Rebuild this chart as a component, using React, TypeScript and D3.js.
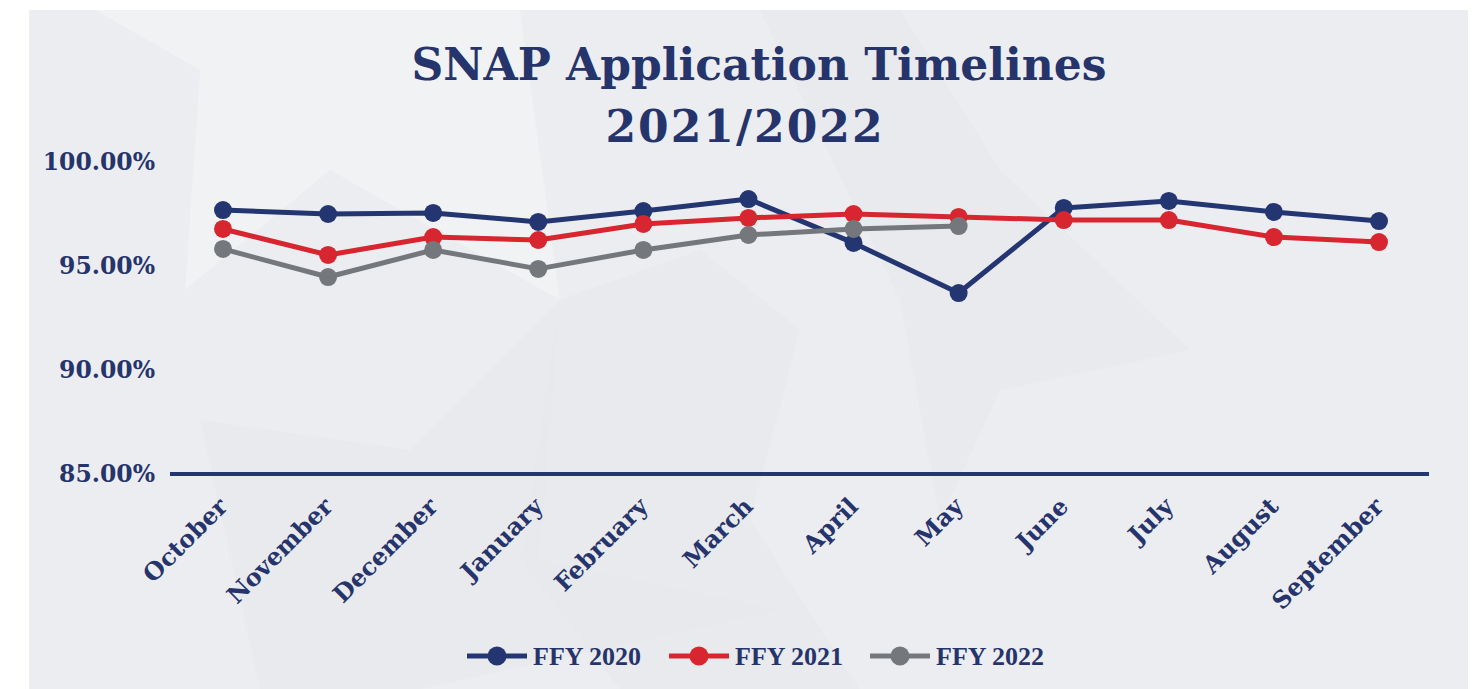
import React from "react";
import * as d3 from "d3";

const months = ["October","November","December","January","February","March","April","May","June","July","August","September"];
const ffy2020 = [97.69, 97.5, 97.55, 97.12, 97.64, 98.22, 96.11, 93.7, 97.79, 98.13, 97.6, 97.16];
const ffy2021 = [96.78, 95.53, 96.39, 96.25, 97.02, 97.31, 97.5, 97.36, 97.21, 97.21, 96.39, 96.15];
const ffy2022 = [95.82, 94.47, 95.77, 94.86, 95.77, 96.49, 96.78, 96.92];
const yTicks = [85, 90, 95, 100];
const seriesNames = ["FFY 2020", "FFY 2021", "FFY 2022"];
const titleLines = ["SNAP Application Timelines", "2021/2022"];

const colors = ["#243672", "#d7262f", "#74787c"];
const textColor = "#26346c";
const W = 1472, H = 689;

export default function App() {
  const x = d3.scalePoint<string>().domain(months).range([223, 1379]);
  const y = d3.scaleLinear().domain([85, 100]).range([474, 162]);
  const line = d3.line<number>().x((_, i) => x(months[i]) as number).y((d) => y(d));
  const series = [ffy2020, ffy2021, ffy2022];
  const serif = "'DejaVu Serif', serif";
  const legendX = [497, 699, 900];

  return (
    <svg width={W} height={H} style={{ position: "fixed", left: 0, top: 0 }}>
      <rect x={0} y={0} width={W} height={H} fill="#ffffff" />
      <rect x={29} y={10} width={1439} height={679} fill="#ecedf0" />
      {/* faint star watermarks */}
      <polygon points="95,10 200,70 185,290 330,170 560,300 520,10" fill="#f1f2f4" opacity={0.8} />
      <polygon points="560,300 700,250 800,330 750,520 860,690 620,689 520,560" fill="#e6e7eb" opacity={0.6} />
      <polygon points="200,420 410,450 560,300 540,560 780,610 420,689 260,689" fill="#e7e8ec" opacity={0.6} />
      <polygon points="760,10 900,10 1000,170 1190,350 1000,390 940,520 900,300" fill="#e6e7eb" opacity={0.5} />
      <g fontFamily={serif} fontWeight="bold" fill={textColor} textAnchor="middle">
        <text x={759} y={80} fontSize={44}>{titleLines[0]}</text>
        <text x={745} y={142} fontSize={44} letterSpacing={2}>{titleLines[1]}</text>
      </g>
      <g fontFamily={serif} fontWeight="bold" fill={textColor} fontSize={23.5} textAnchor="end">
        {yTicks.map((t) => (
          <text key={t} x={155} y={y(t)} dy="0.35em">{d3.format(".2f")(t) + "%"}</text>
        ))}
      </g>
      <line x1={170} x2={1429} y1={y(85)} y2={y(85)} stroke={colors[0]} strokeWidth={4} />
      <g fontFamily={serif} fontWeight="bold" fill={textColor} fontSize={24} textAnchor="end">
        {months.map((m) => (
          <text key={m} transform={`translate(${(x(m) as number) + 6},${508}) rotate(-45)`}>{m}</text>
        ))}
      </g>
      {series.map((s, si) => (
        <g key={si}>
          <path d={line(s) || ""} fill="none" stroke={colors[si]} strokeWidth={5} strokeLinejoin="round" />
          {s.map((v, i) => (
            <circle key={i} cx={x(months[i]) as number} cy={y(v)} r={9} fill={colors[si]} />
          ))}
        </g>
      ))}
      <g>
        {seriesNames.map((n, i) => (
          <g key={n}>
            <line x1={legendX[i] - 30} x2={legendX[i] + 30} y1={656} y2={656} stroke={colors[i]} strokeWidth={5} />
            <circle cx={legendX[i]} cy={656} r={9.5} fill={colors[i]} />
            <text x={legendX[i] + 36} y={656} dy="0.35em" fontFamily="'Liberation Serif', serif" fontWeight="bold" fontSize={26} fill={textColor}>{n}</text>
          </g>
        ))}
      </g>
    </svg>
  );
}
